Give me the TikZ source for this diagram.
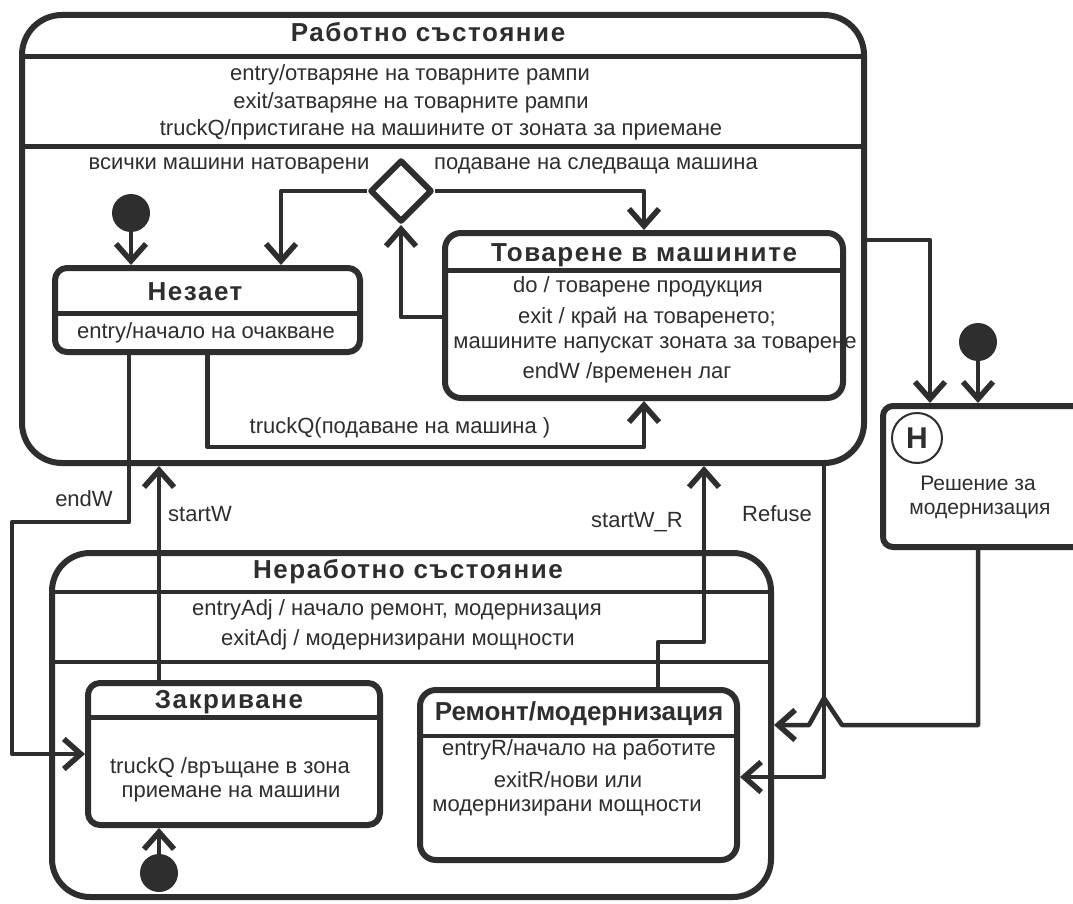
\documentclass[tikz,border=0pt]{standalone}
\usepackage{fontspec}
\setmainfont{Liberation Sans}
\newfontfamily\ttlfont[LetterSpace=6]{Liberation Sans}
\usetikzlibrary{arrows.meta,shapes.geometric}
\definecolor{ink}{RGB}{46,46,46}
\begin{document}
\begin{tikzpicture}[x=1pt,y=-1pt, line join=round,
  box/.style={draw=ink, line width=6pt, rounded corners=#1, inner sep=0pt},
  box/.default=14pt,
  lbl/.style={text=ink, font=\fontsize{22}{24}\selectfont, inner sep=0pt, text height=18pt, text depth=0pt},
  hlbl/.style={lbl, font=\fontsize{21}{24}\selectfont},
  ttl/.style={text=ink, font=\ttlfont\bfseries\fontsize{26}{28}\selectfont, inner sep=0pt, text height=20pt, text depth=0pt},
  ttlc/.style={ttl, font=\bfseries\fontsize{26}{28}\selectfont},
  conn/.style={draw=ink, line width=4.5pt, -{Straight Barb[length=17pt,width=30pt,line width=5.5pt]}},
  sep/.style={draw=ink, line width=5pt},
  thinsep/.style={draw=ink, line width=4pt},
  dot/.style={circle, fill=ink, minimum size=38pt, inner sep=0pt}]
\useasboundingbox (0,0) rectangle (1073,904);
\fill[white] (0,0) rectangle (1073,904);

% ---------- main boxes ----------
\node[box=40pt, minimum width=842pt, minimum height=448pt] (W) at (443,239) {};
\node[box=38pt, minimum width=719pt, minimum height=344pt] (N) at (411.5,725) {};
\node[box=12pt, minimum width=305pt, minimum height=84pt] (Nz) at (207.5,310) {};
\node[box=16pt, minimum width=398pt, minimum height=165pt] (T) at (644,315.5) {};
\node[box=12pt, minimum width=292pt, minimum height=142pt] (Z) at (234,754) {};
\node[box=16pt, minimum width=317pt, minimum height=170pt] (R) at (578.5,775) {};
\node[box=10pt, minimum width=207pt, minimum height=141pt] (Hb) at (986.5,476.5) {};

% ---------- separators ----------
\draw[sep] (W.west |- 0,57) -- (W.east |- 0,57);
\draw[sep] (W.west |- 0,147) -- (W.east |- 0,147);
\draw[sep] (Nz.west |- 0,313) -- (Nz.east |- 0,313);
\draw[sep] (T.west |- 0,270) -- (T.east |- 0,270);
\draw[thinsep] (N.west |- 0,592) -- (N.east |- 0,592);
\draw[thinsep] (N.west |- 0,662) -- (N.east |- 0,662);
\draw[sep] (Z.west |- 0,717) -- (Z.east |- 0,717);
\draw[thinsep] (R.west |- 0,736) -- (R.east |- 0,736);

% ---------- pseudo states ----------
\node[diamond, aspect=1, draw=ink, line width=6pt, minimum width=62pt, minimum height=62pt, inner sep=0pt] (D) at (401,191) {};
\node[dot] (i1) at (131,213) {};
\node[dot] (i2) at (978,342) {};
\node[dot] (i3) at (159,873) {};
\node[circle, draw=ink, line width=2pt, minimum size=50pt, inner sep=0pt, text=ink, font=\bfseries\fontsize{30}{30}\selectfont] (Hc) at (917,438) {H};

% ---------- texts ----------
\node[ttl] (tW) at (428,32) {Работно състояние};
\node[lbl] (e1) at (410,72) {entry/отваряне на товарните рампи};
\node[lbl] (e2) at (411,100) {exit/затваряне на товарните рампи};
\node[lbl] (e3) at (441,127) {truckQ/пристигане на машините от зоната за приемане};
\node[lbl] (g1) at (229,161) {всички машини натоварени};
\node[lbl] (g2) at (596,161) {подаване на следваща машина};
\node[ttl] (tNz) at (195,290) {Незает};
\node[lbl] (eNz) at (206,329) {entry/начало на очакване};
\node[ttl] (tT) at (644,251) {Товарене в машините};
\node[lbl] (d1) at (638,283) {do / товарене продукция};
\node[lbl] (d2) at (647,314) {exit / край на товаренето;};
\node[lbl] (d3) at (655,339) {машините напускат зоната за товарене};
\node[lbl] (d4) at (627,369) {endW /временен лаг};
\node[lbl] (tq) at (400,424) {truckQ(подаване на машина )};
\node[lbl] (lE) at (84,497) {endW};
\node[lbl] (lS) at (200,512) {startW};
\node[lbl] (lSR) at (637,518) {startW\_R};
\node[lbl] (lRf) at (777,512) {Refuse};
\node[hlbl] (h1) at (978,481) {Решение за};
\node[hlbl] (h2) at (980,505) {модернизация};
\node[ttl] (tN) at (408,568) {Неработно състояние};
\node[lbl] (a1) at (397,606) {entryAdj / начало ремонт, модернизация};
\node[lbl] (a2) at (398,636) {exitAdj / модернизирани мощности};
\node[ttl] (tZ) at (229,698) {Закриване};
\node[lbl] (z1) at (230,764) {truckQ /връщане в зона};
\node[lbl] (z2) at (231,788) {приемане на машини};
\node[ttlc] (tR) at (579,710) {Ремонт/модернизация};
\node[lbl] (r1) at (579,746) {entryR/начало на работите};
\node[lbl] (r2) at (568,778) {exitR/нови или};
\node[lbl] (r3) at (567,802) {модернизирани мощности};

% ---------- connectors ----------
\draw[conn] (i1) -- (Nz.north -| i1);
\draw[conn] (D.west) -| (Nz.north -| 281,0);
\draw[conn] (D.east) -| (T.north);
\draw[conn] (T.west |- 0,317) -| (D.south);
\draw[conn] (Nz.south) -- ++(0,92) -| (T.south);
\draw[conn] (Nz.south -| 129,0) |- (12,522) |- (Z.west);
\draw[conn] (Z.north -| 159,0) -- (W.south -| 159,0);
\draw[conn] (R.north -| 658,0) |- (704,642) -- (W.south -| 704,0);
\draw[conn] (W.south -| 824,0) |- (R.east |- 0,777);
\draw[conn] (W.east |- 0,240) -| (Hb.north -| 930,0);
\draw[conn] (i2) -- (Hb.north -| i2);
\draw[conn] (Hb.south -| 978,0) |- (842,725) -- (824,698) -- (809,725) -- (N.east |- 0,725);
\draw[conn] (i3) -- (Z.south -| i3);
\end{tikzpicture}
\end{document}
